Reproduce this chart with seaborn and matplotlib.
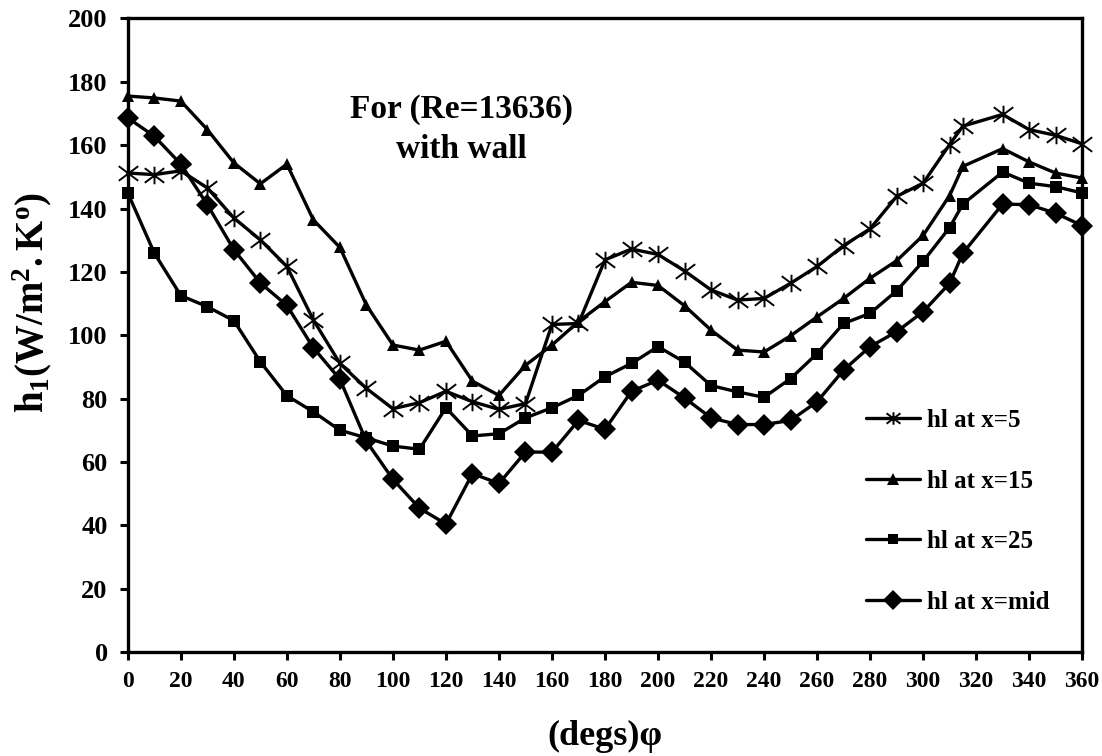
import matplotlib
matplotlib.use("Agg")
import matplotlib.pyplot as plt
from matplotlib.path import Path
import seaborn as sns
import pandas as pd

phi = [0, 10, 20, 30, 40, 50, 60, 70, 80, 90, 100, 110, 120, 130, 140, 150, 160,
       170, 180, 190, 200, 210, 220, 230, 240, 250, 260, 270, 280, 290, 300, 310,
       315, 330, 340, 350, 360]
h_x5 = [151.2, 150.7, 151.9, 146.5, 137.0, 130.1, 121.7, 104.8, 91.1, 83.2, 76.8,
        78.7, 82.3, 79.0, 76.6, 78.4, 103.4, 103.7, 123.8, 127.2, 125.5, 120.3,
        114.3, 111.1, 111.6, 116.4, 121.7, 128.3, 133.6, 143.8, 148.0, 160.2,
        166.0, 169.7, 164.9, 163.1, 160.4]
h_x15 = [175.5, 174.9, 173.9, 164.9, 154.4, 147.8, 154.0, 136.4, 127.7, 109.5,
         96.9, 95.3, 98.1, 85.5, 81.0, 90.5, 96.9, 104.3, 110.6, 116.7, 115.7,
         109.3, 101.6, 95.3, 94.7, 99.8, 105.8, 111.6, 118.0, 123.5, 131.5, 144.1,
         153.3, 158.9, 154.7, 151.2, 149.6]
h_x25 = [144.9, 125.9, 112.5, 109.0, 104.6, 91.6, 80.9, 75.8, 70.0, 67.6, 65.0,
         64.0, 77.1, 68.2, 68.9, 73.9, 77.1, 81.0, 86.9, 91.1, 96.4, 91.5, 84.1,
         82.1, 80.4, 86.3, 94.2, 103.7, 106.9, 114.0, 123.3, 134.0, 141.4, 151.5,
         148.0, 146.9, 144.9]
h_mid = [168.6, 162.8, 154.0, 141.2, 127.0, 116.5, 109.4, 96.0, 86.1, 66.5, 54.5,
         45.4, 40.4, 56.3, 53.2, 63.1, 63.1, 73.1, 70.3, 82.3, 85.8, 80.2, 73.9,
         71.8, 71.8, 73.1, 79.0, 89.0, 96.4, 101.1, 107.4, 116.4, 125.9, 141.4,
         141.2, 138.5, 134.6]
labels = ["hl at x=5", "hl at x=15", "hl at x=25", "hl at x=mid"]
x_ticks = list(range(0, 361, 20))
y_ticks = list(range(0, 201, 20))

sns.set_theme(style="white")
plt.rcParams["font.family"] = ["Liberation Serif", "DejaVu Serif"]
plt.rcParams["font.weight"] = "bold"
for key in ["text.color", "axes.labelcolor", "xtick.color", "ytick.color",
            "axes.edgecolor"]:
    plt.rcParams[key] = "black"
plt.rcParams["mathtext.fontset"] = "custom"
plt.rcParams["mathtext.rm"] = "Liberation Serif:bold"
plt.rcParams["mathtext.bf"] = "Liberation Serif:bold"
plt.rcParams["mathtext.it"] = "Liberation Serif:bold"

# Excel-like star marker: an X with a vertical bar
star = Path([(0, -0.9), (0, 0.9), (-1, -0.75), (1, 0.75), (-1, 0.75), (1, -0.75)],
            [Path.MOVETO, Path.LINETO, Path.MOVETO, Path.LINETO, Path.MOVETO,
             Path.LINETO])

fig = plt.figure(figsize=(11.02, 7.56), dpi=100)
ax = fig.add_axes([0.116, 0.1376, 0.866, 0.838])

styles = [
    dict(marker=star, markersize=14, markeredgewidth=1.4),
    dict(marker="^", markersize=9, markeredgewidth=0),
    dict(marker="s", markersize=8, markeredgewidth=0),
    dict(marker="D", markersize=11, markeredgewidth=0),
]
series = [h_x5, h_x15, h_x25, h_mid]
for vals, lab, st in zip(series, labels, styles):
    df = pd.DataFrame({"phi": phi, "h": vals})
    sns.lineplot(data=df, x="phi", y="h", ax=ax, color="black", linewidth=2.4,
                 markerfacecolor="black", markeredgecolor="black",
                 label=lab, clip_on=False, zorder=3, **st)

ax.set_xlim(0, 360)
ax.set_ylim(0, 200)
ax.set_xticks(x_ticks)
ax.set_yticks(y_ticks)
ax.tick_params(axis="x", labelsize=17, direction="out", length=5.5, width=2.2,
               pad=8, bottom=True)
ax.tick_params(axis="y", labelsize=19, direction="out", length=5.5, width=2.2,
               pad=9, left=True)
for lbl in ax.get_xticklabels() + ax.get_yticklabels():
    lbl.set_fontweight("bold")
for sp in ax.spines.values():
    sp.set_color("black")
    sp.set_linewidth(2.4)

ax.set_xlabel("(degs)φ", fontsize=26, fontweight="bold")
ax.xaxis.set_label_coords(0.5, -0.108)
ax.set_ylabel(r"$\mathbf{h_1(W/m^2.K^o)}$", fontsize=28)
ax.yaxis.set_label_coords(-0.077, 0.552)

ax.text(126, 165, "For (Re=13636)\nwith wall", ha="center", va="center",
        fontsize=24, fontweight="bold", linespacing=1.4)

handles, lbls = ax.get_legend_handles_labels()
leg = ax.legend(handles, lbls, loc="center left", bbox_to_anchor=(0.7736, 0.222),
                frameon=False, labelspacing=1.5, handlelength=2.16,
                handletextpad=0.28, borderpad=0, borderaxespad=0,
                prop={"weight": "bold", "size": 18})
for h, ms in zip(leg.legend_handles, [10, 8, 7, 10]):
    h.set_markersize(ms)
    h.set_linewidth(2.4)

fig.savefig("out.png", dpi=100)
